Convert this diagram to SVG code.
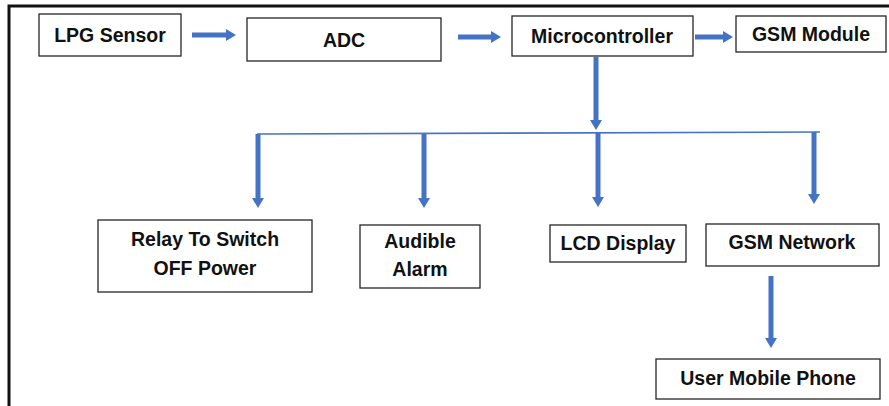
<svg xmlns="http://www.w3.org/2000/svg" width="889" height="406" viewBox="0 0 889 406">
<style>
.box{fill:#fff;stroke:#262626;stroke-width:1.3}
.t{font-family:"Liberation Sans",Arial,sans-serif;font-weight:bold;font-size:19.5px;fill:#111;text-anchor:middle}
.arr{stroke:#4472C4;stroke-width:5;fill:none}
.bus{stroke:#4472C4;stroke-width:1.6;fill:none}
.frame{stroke:#111;stroke-width:3;fill:none}
</style>
<defs>
<marker id="ah" markerUnits="userSpaceOnUse" markerWidth="12" markerHeight="12" refX="0" refY="6" orient="auto" viewBox="0 0 12 12">
<path d="M0,0 L10,6 L0,12 Z" fill="#4472C4"/>
</marker>
</defs>
<rect width="889" height="406" fill="#fff"/>
<path class="frame" d="M9,406 V6 H889"/>
<g id="connectors">
<line class="arr" x1="192" y1="35" x2="226" y2="35" marker-end="url(#ah)"/>
<line class="arr" x1="458" y1="37" x2="491" y2="37" marker-end="url(#ah)"/>
<line class="arr" x1="695" y1="37" x2="723" y2="37" marker-end="url(#ah)"/>
<line class="arr" x1="596" y1="57" x2="596" y2="120" marker-end="url(#ah)"/>
<path class="bus" d="M257,134 L820,132"/>
<line class="arr" x1="258" y1="134" x2="258" y2="198" marker-end="url(#ah)"/>
<line class="arr" x1="424" y1="134" x2="424" y2="198" marker-end="url(#ah)"/>
<line class="arr" x1="598" y1="133" x2="598" y2="197" marker-end="url(#ah)"/>
<line class="arr" x1="814" y1="132" x2="814" y2="194" marker-end="url(#ah)"/>
<line class="arr" x1="771" y1="276" x2="771" y2="338" marker-end="url(#ah)"/>
</g>
<g id="lpg"><rect class="box" x="39" y="14" width="142" height="42"/><text class="t" x="110" y="42">LPG Sensor</text></g>
<g id="adc"><rect class="box" x="247" y="18" width="194" height="43"/><text class="t" x="344" y="47">ADC</text></g>
<g id="mcu"><rect class="box" x="512" y="16" width="181" height="40"/><text class="t" x="602" y="43">Microcontroller</text></g>
<g id="gsm-module"><rect class="box" x="736" y="16" width="150" height="36"/><text class="t" x="811" y="41">GSM Module</text></g>
<g id="relay"><rect class="box" x="98" y="220" width="214" height="72"/><text class="t" x="205" y="246">Relay To Switch</text><text class="t" x="205" y="275">OFF Power</text></g>
<g id="alarm"><rect class="box" x="360" y="225" width="120" height="63"/><text class="t" x="420" y="248">Audible</text><text class="t" x="420" y="276">Alarm</text></g>
<g id="lcd"><rect class="box" x="550" y="225" width="136" height="37"/><text class="t" x="618" y="250">LCD Display</text></g>
<g id="gsm-network"><rect class="box" x="706" y="224" width="173" height="42"/><text class="t" x="792" y="249">GSM Network</text></g>
<g id="phone"><rect class="box" x="656" y="359" width="224" height="40"/><text class="t" x="768" y="385">User Mobile Phone</text></g>
</svg>
